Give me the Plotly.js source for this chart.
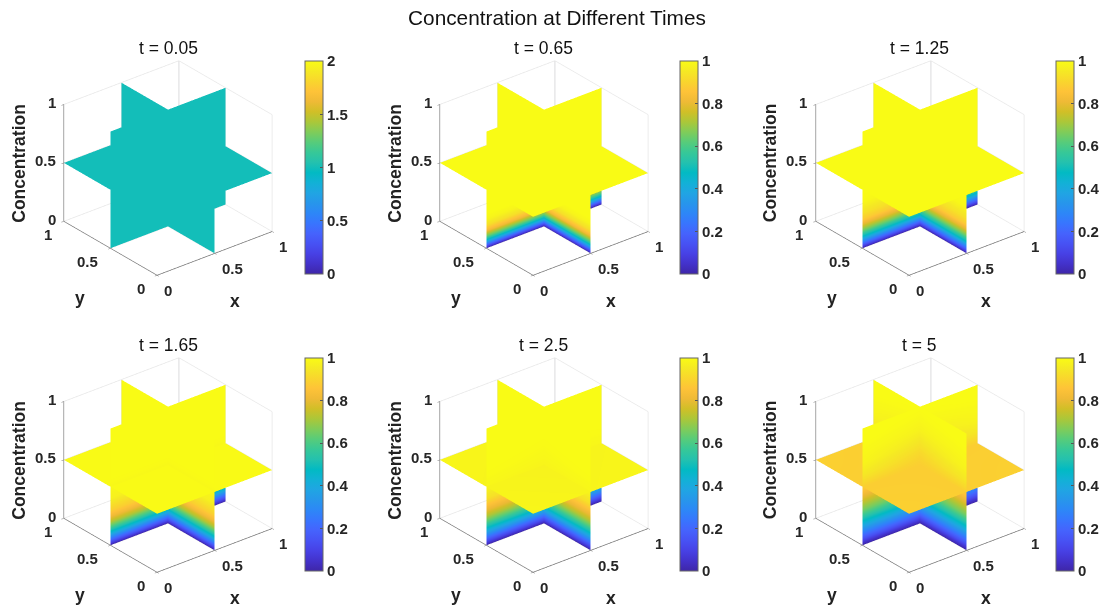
<!DOCTYPE html>
<html><head><meta charset="utf-8">
<script src="https://cdn.plot.ly/plotly-3.0.1.min.js"></script>
<style>html,body{margin:0;padding:0;background:#fff}#g{width:1107px;height:605px}</style></head>
<body><div id="g"></div>
<script>
// ---- data ----
const times = ['t = 0.05','t = 0.65','t = 1.25','t = 1.65','t = 2.5','t = 5'];
const zLevels = [0,0.03,0.06,0.1,0.15,0.2,0.25,0.3,0.4,0.5,0.6,0.7,0.8,0.9,1];
const wallAlong = [0,0.25,0.5,0.75,1];
const planeGrid = [0,0.5,1];
// concentration on the walls at the outer edge of a wall
const edge005 = [1,1,1,1,1,1,1,1,1,1,1,1,1,1,1];
const edge065 = [0,0.19,0.4,0.62,0.82,0.93,0.98,1,1,1,1,1,1,1,1];
const edge125 = [0,0.15,0.29,0.47,0.64,0.78,0.88,0.93,0.99,1,1,1,1,1,1];
const edge165 = [0,0.13,0.25,0.41,0.58,0.72,0.82,0.89,0.97,0.99,1,1,1,1,1];
const edge250 = [0,0.1,0.2,0.33,0.48,0.61,0.72,0.8,0.93,0.985,0.995,1,1,1,1];
const edge500 = [0,0.07,0.15,0.24,0.35,0.46,0.56,0.65,0.78,0.89,0.95,0.98,0.99,1,1];
// concentration on the walls where they cross
const mid005 = edge005;
const mid065 = edge065;
const mid125 = edge125;
const mid165 = edge165;
const mid250 = [0,0.11,0.21,0.35,0.5,0.62,0.72,0.8,0.93,0.98,0.99,0.995,1,1,1];
const mid500 = [0,0.08,0.16,0.26,0.37,0.47,0.56,0.64,0.77,0.885,0.91,0.945,0.975,0.99,1];
const edgeProfiles = [edge005,edge065,edge125,edge165,edge250,edge500];
const midProfiles = [mid005,mid065,mid125,mid165,mid250,mid500];
// concentration on the horizontal slice: [corner, side, middle]
const plane005 = [1,1,1];
const plane065 = [1,1,1];
const plane125 = [1,1,1];
const plane165 = [0.995,0.995,0.995];
const plane250 = [0.985,0.98,0.975];
const plane500 = [0.89,0.885,0.885];
const planes = [plane005,plane065,plane125,plane165,plane250,plane500];
const cbMax = [2,1,1,1,1,1];
const cbTicks = [[0,0.5,1,1.5,2],[0,0.2,0.4,0.6,0.8,1],[0,0.2,0.4,0.6,0.8,1],[0,0.2,0.4,0.6,0.8,1],[0,0.2,0.4,0.6,0.8,1],[0,0.2,0.4,0.6,0.8,1]];
const axisTicks = [0,0.5,1];
const backEdgeX = [1,1], backEdgeY = [1,1], backEdgeZ = [0,1];
const parula = ['#3e26a8','#4332cb','#4741e5','#4752f4','#4563fd','#3875fe','#2d87f7','#2796eb','#20a5e3','#12b1d6','#02bac3','#24c1ae','#37c897','#57cc7a','#80cc59','#abc739','#d1bf27','#efba36','#fec338','#f9d62d','#f5e924','#f9fb15'];

// ---- layout constants ----
const W = 1107, H = 605;
const cx = [168,544,919.5], cy = [168,465];
const cbx = [305,680,1056], cbTop = [61,358];
const domain = 270;
const EYE = 1.81;
const eye = {x:-0.556*EYE,y:-0.686*EYE,z:0.469*EYE};
const txt = '#262626', font = 'Liberation Sans, Arial, sans-serif';
const colorscale = parula.map((c,i)=>[i/(parula.length-1),c]);

const data = [], layout = {
  width:W,height:H,margin:{l:0,r:0,t:0,b:0},paper_bgcolor:'#fff',showlegend:false,
  title:{text:'Concentration at Different Times',x:557/W,xanchor:'center',y:1-18/H,yanchor:'middle',font:{family:font,size:20.8,color:'#111'}},
  annotations:[]
};

times.forEach((label,p)=>{
  const col = p%3,row = p<3?0:1, key = 'scene'+(p===0?'':p+1);
  const lerp = s=>{const d=Math.abs(s-0.5)*2;return d;};
  const wallC = zLevels.map((z,k)=>wallAlong.map(s=>{const d=lerp(s);return midProfiles[p][k]*(1-d)+edgeProfiles[p][k]*d;}));
  const base = {type:'surface',scene:key,cmin:0,cmax:cbMax[p],colorscale,showscale:false,hoverinfo:'skip',
    lighting:{ambient:1,diffuse:0,specular:0,roughness:1,fresnel:0},contours:{x:{show:false},y:{show:false},z:{show:false}}};
  // wall x = 0.5
  data.push({...base,
    x:zLevels.map(()=>wallAlong.map(()=>0.5)),
    y:zLevels.map(()=>wallAlong),
    z:zLevels.map(z=>wallAlong.map(()=>z)),
    surfacecolor:wallC});
  // wall y = 0.5
  data.push({...base,
    x:zLevels.map(()=>wallAlong),
    y:zLevels.map(()=>wallAlong.map(()=>0.5)),
    z:zLevels.map(z=>wallAlong.map(()=>z)),
    surfacecolor:wallC});
  // horizontal slice z = 0.5
  const pl = planes[p];
  data.push({...base,
    x:planeGrid,y:planeGrid,
    z:planeGrid.map(()=>planeGrid.map(()=>0.5)),
    surfacecolor:[[pl[0],pl[1],pl[0]],[pl[1],pl[2],pl[1]],[pl[0],pl[1],pl[0]]],
    showscale:true,
    colorbar:{x:cbx[col]/W,xanchor:'left',xpad:0,ypad:0,thickness:18,thicknessmode:'pixels',
      len:213/H,lenmode:'fraction',y:1-cbTop[row]/H,yanchor:'top',
      outlinecolor:'#666',outlinewidth:1,tickvals:cbTicks[p],ticktext:cbTicks[p].map(String),
      ticks:'inside',ticklen:3,tickcolor:'#555',tickfont:{family:font,size:15,color:txt,weight:'bold'}}
  });
  // back vertical edge of the axes box
  data.push({type:'scatter3d',scene:key,mode:'lines',x:backEdgeX,y:backEdgeY,z:backEdgeZ,line:{color:'#bcbcc2',width:2},hoverinfo:'skip',showlegend:false});
  const tf = {family:font,size:15,color:txt,weight:'bold'};
  const ann = [];
  axisTicks.forEach(v=>{
    ann.push({x:v,y:0,z:0,text:String(v),showarrow:false,xanchor:'left',yanchor:'middle',xshift:5,yshift:-15,font:tf});
    ann.push({x:0,y:v,z:0,text:String(v),showarrow:false,xanchor:'right',yanchor:'middle',xshift:-10,yshift:-13,font:tf});
    ann.push({x:0,y:1,z:v,text:String(v),showarrow:false,xanchor:'right',yanchor:'middle',xshift:-6,yshift:2,font:tf});
  });
  const lf = {family:font,size:17.5,color:'#222',weight:'bold'};
  ann.push({x:0.5,y:0,z:0,text:'x',showarrow:false,xanchor:'center',yanchor:'middle',xshift:20,yshift:-48,font:lf});
  ann.push({x:0,y:0.5,z:0,text:'y',showarrow:false,xanchor:'center',yanchor:'middle',xshift:-30,yshift:-50,font:lf});
  ann.push({x:0,y:1,z:0.5,text:'Concentration',showarrow:false,textangle:-90,xanchor:'center',yanchor:'middle',xshift:-45,yshift:0,font:lf});
  const ax = {range:[0,1],tickvals:axisTicks,showticklabels:false,showbackground:false,showgrid:true,gridcolor:'#e6e6e6',gridwidth:1.5,
    zeroline:false,showline:true,linecolor:'#6e6e6e',linewidth:1.5,ticks:'inside',ticklen:3,tickcolor:'#6e6e6e',showspikes:false,title:{text:''}};
  layout[key] = {
    domain:{x:[(cx[col]-domain/2)/W,(cx[col]+domain/2)/W],y:[1-(cy[row]+domain/2)/H,1-(cy[row]-domain/2)/H]},
    bgcolor:'rgba(0,0,0,0)',
    camera:{eye,center:{x:0,y:0,z:0},up:{x:0,y:0,z:1},projection:{type:'orthographic'}},
    aspectmode:'manual',aspectratio:{x:1.097,y:1.097,z:0.98},
    dragmode:false,
    xaxis:ax,yaxis:ax,zaxis:ax,annotations:ann
  };
  const titleX = [168,543,919];
  layout.annotations.push({xref:'paper',yref:'paper',x:titleX[col]/W,y:1-(row?345:48)/H,text:label,showarrow:false,xanchor:'center',yanchor:'middle',font:{family:font,size:17.5,color:'#111'}});
});
Plotly.newPlot('g',data,layout,{displayModeBar:false,staticPlot:false,responsive:false});
</script></body></html>
